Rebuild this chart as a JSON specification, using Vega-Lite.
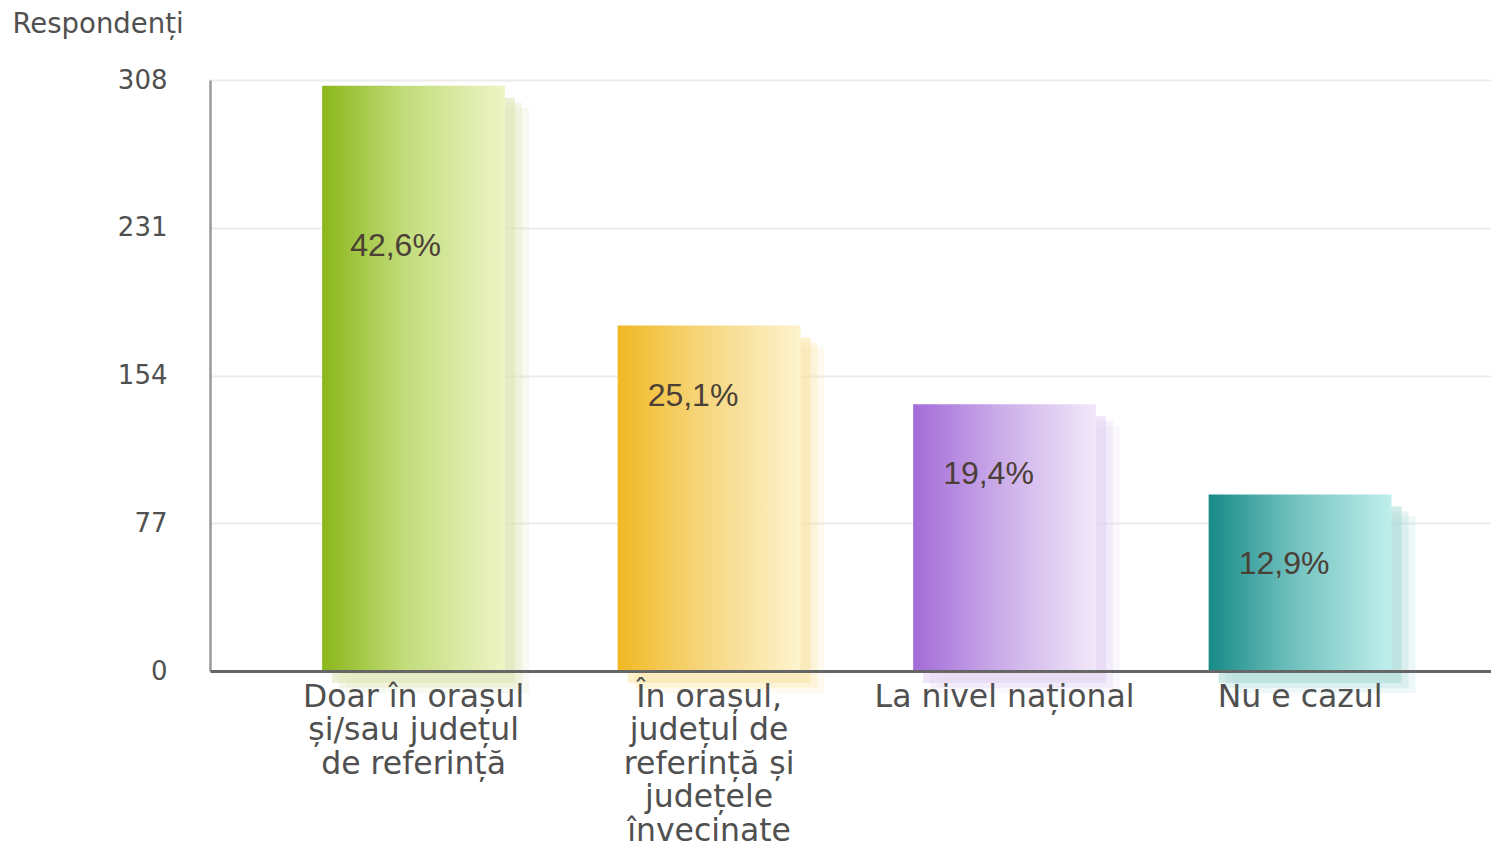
{
  "$schema": "https://vega.github.io/schema/vega-lite/v6.json",
  "width": 1281,
  "height": 591,
  "autosize": {"type": "none"},
  "padding": {"left": 210, "top": 80, "right": 0, "bottom": 177},
  "background": "white",
  "config": {"view": {"stroke": null}},
  "data": {
    "values": [
      {"cat": "Doar în orașul|și/sau județul|de referință", "n": 305, "pct": "42,6%", "key": "a"},
      {"cat": "În orașul,|județul de|referință și|județele|învecinate", "n": 180, "pct": "25,1%", "key": "b"},
      {"cat": "La nivel național", "n": 139, "pct": "19,4%", "key": "c"},
      {"cat": "Nu e cazul", "n": 92, "pct": "12,9%", "key": "d"}
    ]
  },
  "encoding": {
    "x": {
      "field": "cat",
      "type": "nominal",
      "sort": null,
      "scale": {"paddingInner": 0.381, "paddingOuter": 0.358, "align": 0.53},
      "axis": {
        "title": null,
        "labelExpr": "split(datum.value, '|')",
        "labelAngle": 0,
        "labelFont": "DejaVu Sans",
        "labelFontSize": 31.5,
        "labelColor": "#505050",
        "labelLineHeight": 33.5,
        "labelPadding": 10,
        "labelBaseline": "top",
        "labelLimit": 0,
        "ticks": false,
        "grid": false,
        "domainColor": "#666666",
        "domainWidth": 3,
        "zindex": 1
      }
    },
    "y": {
      "field": "n",
      "type": "quantitative",
      "scale": {"domain": [0, 308], "nice": false},
      "axis": {
        "values": [0, 77, 154, 231, 308],
        "grid": true,
        "gridColor": "#ececec",
        "gridWidth": 2,
        "domainColor": "#999999",
        "domainWidth": 2.5,
        "ticks": false,
        "labelPadding": 43,
        "labelFont": "DejaVu Sans",
        "labelFontSize": 26,
        "labelColor": "#505050",
        "title": "Respondenți",
        "titleAngle": 0,
        "titleAlign": "left",
        "titleBaseline": "alphabetic",
        "titleX": -198,
        "titleY": -48,
        "titleFont": "DejaVu Sans",
        "titleFontSize": 27.5,
        "titleFontWeight": "normal",
        "titleColor": "#505050"
      }
    }
  },
  "layer": [
    {
      "mark": {"type": "bar", "xOffset": 24, "yOffset": 22, "y2Offset": 22, "opacity": 0.18},
      "encoding": {
        "fill": {
          "condition": [
            {"test": "datum.key === 'a'", "value": "#d9e6b0"},
            {"test": "datum.key === 'b'", "value": "#f9e3a4"},
            {"test": "datum.key === 'c'", "value": "#e2d0f2"}
          ],
          "value": "#a9d9d6"
        }
      }
    },
    {
      "mark": {"type": "bar", "xOffset": 17, "yOffset": 17, "y2Offset": 17, "opacity": 0.3},
      "encoding": {
        "fill": {
          "condition": [
            {"test": "datum.key === 'a'", "value": "#d9e6b0"},
            {"test": "datum.key === 'b'", "value": "#f9e3a4"},
            {"test": "datum.key === 'c'", "value": "#e2d0f2"}
          ],
          "value": "#a9d9d6"
        }
      }
    },
    {
      "mark": {"type": "bar", "xOffset": 10, "yOffset": 12, "y2Offset": 12, "opacity": 0.55},
      "encoding": {
        "fill": {
          "condition": [
            {"test": "datum.key === 'a'", "value": "#d9e6b0"},
            {"test": "datum.key === 'b'", "value": "#f9e3a4"},
            {"test": "datum.key === 'c'", "value": "#e2d0f2"}
          ],
          "value": "#a9d9d6"
        }
      }
    },
    {
      "mark": {"type": "bar"},
      "encoding": {
        "fill": {
          "condition": [
            {"test": "datum.key === 'a'", "value": {"gradient": "linear", "x1": 0, "y1": 0, "x2": 1, "y2": 0, "stops": [{"offset": 0, "color": "#8ab71a"}, {"offset": 0.45, "color": "#c2dc7a"}, {"offset": 1, "color": "#eef5c6"}]}},
            {"test": "datum.key === 'b'", "value": {"gradient": "linear", "x1": 0, "y1": 0, "x2": 1, "y2": 0, "stops": [{"offset": 0, "color": "#f0b823"}, {"offset": 0.45, "color": "#f6d57a"}, {"offset": 1, "color": "#fdf3cf"}]}},
            {"test": "datum.key === 'c'", "value": {"gradient": "linear", "x1": 0, "y1": 0, "x2": 1, "y2": 0, "stops": [{"offset": 0, "color": "#a36bd8"}, {"offset": 0.45, "color": "#c9a9e8"}, {"offset": 1, "color": "#f1e8f9"}]}}
          ],
          "value": {"gradient": "linear", "x1": 0, "y1": 0, "x2": 1, "y2": 0, "stops": [{"offset": 0, "color": "#178a87"}, {"offset": 0.45, "color": "#6fc0bd"}, {"offset": 1, "color": "#c0efec"}]}
        }
      }
    },
    {
      "transform": [{"filter": "datum.key === 'a'"}],
      "mark": {"type": "text", "align": "left", "baseline": "middle", "dx": 28, "dy": 160, "font": "Liberation Sans", "fontSize": 32, "color": "#4b3f36"},
      "encoding": {
        "x": {"field": "cat", "type": "nominal", "sort": null, "bandPosition": 0},
        "text": {"field": "pct"}
      }
    },
    {
      "transform": [{"filter": "datum.key !== 'a'"}],
      "mark": {"type": "text", "align": "left", "baseline": "middle", "dx": 30, "dy": 70, "font": "Liberation Sans", "fontSize": 32, "color": "#4b3f36"},
      "encoding": {
        "x": {"field": "cat", "type": "nominal", "sort": null, "bandPosition": 0},
        "text": {"field": "pct"}
      }
    }
  ]
}
